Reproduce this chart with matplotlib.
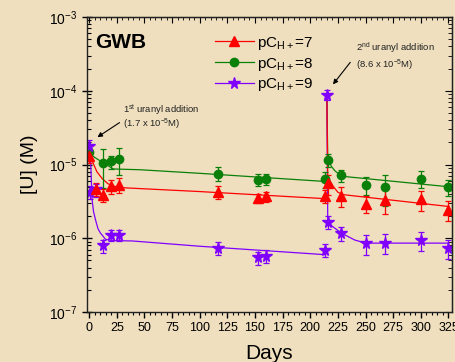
import numpy as np
import matplotlib
matplotlib.use('Agg')
import matplotlib.pyplot as plt
from matplotlib.lines import Line2D
from matplotlib.ticker import MultipleLocator, LogLocator, NullFormatter

plt.rcParams['font.family'] = ['Liberation Sans', 'DejaVu Sans']
plt.rcParams['mathtext.fontset'] = 'custom'
plt.rcParams['mathtext.rm'] = 'Liberation Sans'
plt.rcParams['mathtext.it'] = 'Liberation Sans:italic'
plt.rcParams['mathtext.bf'] = 'Liberation Sans:bold'
plt.rcParams['mathtext.default'] = 'regular'

# measured points (days, [U] in M, relative error)
red_days = [0, 6, 13, 20, 27, 117, 153, 160, 213, 216, 228, 250, 268, 300, 325]
red_u = [1.3e-5, 4.7e-6, 3.9e-6, 5.1e-6, 5.3e-6, 4.2e-6, 3.5e-6, 3.7e-6, 3.8e-6,
         5.6e-6, 3.8e-6, 2.95e-6, 3.3e-6, 3.4e-6, 2.45e-6]
red_err = [0.2, 0.2, 0.2, 0.22, 0.22, 0.2, 0.15, 0.15, 0.2, 0.3, 0.3, 0.25, 0.35, 0.3, 0.3]

green_days = [0, 13, 20, 27, 117, 153, 160, 213, 216, 228, 250, 268, 300, 325]
green_u = [1.46e-5, 1.06e-5, 1.1e-5, 1.2e-5, 7.55e-6, 6.25e-6, 6.4e-6, 6.4e-6,
           1.15e-5, 7.1e-6, 5.3e-6, 5.0e-6, 6.4e-6, 5.0e-6]
green_err = [0.15, 0.55, 0.2, 0.4, 0.22, 0.18, 0.18, 0.25, 0.2, 0.18, 0.28, 0.45, 0.26, 0.25]

purple_days = [0, 0.5, 6, 13, 20, 27, 117, 153, 160, 213, 215, 216, 228, 250, 268, 300, 325]
purple_u = [1.8e-5, 4.2e-6, 4.6e-6, 8.0e-7, 1.12e-6, 1.1e-6, 7.4e-7, 5.5e-7, 5.8e-7,
            7.0e-7, 8.8e-5, 1.66e-6, 1.18e-6, 8.6e-7, 8.7e-7, 9.5e-7, 7.4e-7]
purple_err = [0.2, 0.2, 0.2, 0.2, 0.17, 0.17, 0.2, 0.2, 0.2, 0.2, 0.16, 0.2, 0.22,
              0.3, 0.3, 0.3, 0.3]

# fitted curves (before / after the 2nd addition)
red_fit1_days = [0, 3, 7, 12, 17, 22, 30, 100, 213]
red_fit1 = [1.55e-5, 1.1e-5, 8.0e-6, 6.4e-6, 5.5e-6, 5.1e-6, 4.85e-6, 4.3e-6, 3.45e-6]
red_fit2_days = [215, 215.8, 218, 221, 225, 230, 325]
red_fit2 = [8.6e-5, 7.0e-6, 6.0e-6, 5.0e-6, 4.2e-6, 3.9e-6, 2.7e-6]

green_fit1_days = [0, 5, 13, 22, 46, 100, 213]
green_fit1 = [1.45e-5, 1.25e-5, 1.05e-5, 8.7e-6, 8.5e-6, 7.6e-6, 5.9e-6]
green_fit2_days = [215, 215.8, 219, 222, 226, 230, 325]
green_fit2 = [8.6e-5, 1.2e-5, 9.5e-6, 8.3e-6, 7.4e-6, 6.9e-6, 5.0e-6]

purple_fit1_days = [0, 1.5, 2.7, 4, 5.7, 8, 10.2, 14.8, 21, 39, 100, 213]
purple_fit1 = [1.8e-5, 1.0e-5, 3.3e-6, 2.3e-6, 1.8e-6, 1.35e-6, 1.18e-6, 9.7e-7,
               9.3e-7, 9.2e-7, 7.8e-7, 6.0e-7]
purple_fit2_days = [215, 215.8, 220, 228, 240, 250, 325]
purple_fit2 = [8.8e-5, 1.7e-6, 1.45e-6, 1.18e-6, 9.5e-7, 8.6e-7, 8.6e-7]

labels = ['pC$_{H+}$=7', 'pC$_{H+}$=8', 'pC$_{H+}$=9']

bg = '#EFDFBE'
c_red = '#FF0000'
c_green = '#0A800A'
c_purple = '#8000FF'

fig = plt.figure(figsize=(4.55, 3.62), dpi=100, facecolor=bg)
ax = fig.add_axes([0.191, 0.138, 0.802, 0.815])
ax.set_facecolor(bg)

series = [
    (green_days, green_u, green_err, green_fit1_days, green_fit1, green_fit2_days, green_fit2, c_green, 'o', 6),
    (purple_days, purple_u, purple_err, purple_fit1_days, purple_fit1, purple_fit2_days, purple_fit2, c_purple, '*', 8.5),
    (red_days, red_u, red_err, red_fit1_days, red_fit1, red_fit2_days, red_fit2, c_red, '^', 7),
]
for d, u, e, f1d, f1, f2d, f2, c, m, ms in series:
    ax.plot(f1d, f1, '-', color=c, lw=0.9)
    ax.plot(f2d, f2, '-', color=c, lw=0.9)
for d, u, e, f1d, f1, f2d, f2, c, m, ms in series:
    u = np.array(u)
    ax.errorbar(d, u, yerr=u * np.array(e), fmt=m, color=c, ms=ms, mec=c,
                ecolor=c, elinewidth=0.9, capsize=2.5, capthick=0.9)

ax.set_yscale('log')
ax.set_xlim(-2, 328)
ax.set_ylim(1e-7, 1e-3)
ax.xaxis.set_major_locator(MultipleLocator(25))
ax.xaxis.set_minor_locator(MultipleLocator(5))
ax.yaxis.set_major_locator(LogLocator(base=10))
ax.yaxis.set_minor_locator(LogLocator(base=10, subs=np.arange(2, 10)))
ax.yaxis.set_minor_formatter(NullFormatter())
ax.tick_params(axis='x', which='major', direction='out', length=4, labelsize=9, width=1)
ax.tick_params(axis='x', which='minor', direction='out', length=2, width=0.8)
ax.tick_params(axis='y', which='major', direction='inout', length=7, labelsize=10, width=1)
ax.tick_params(axis='y', which='minor', direction='in', length=3, width=0.8)
for s in ax.spines.values():
    s.set_linewidth(1.0)
    s.set_color('#222222')

top = ax.secondary_xaxis('top')
top.xaxis.set_major_locator(MultipleLocator(25))
top.xaxis.set_minor_locator(MultipleLocator(5))
top.tick_params(which='major', direction='in', length=4, labeltop=False)
top.tick_params(which='minor', direction='in', length=2)
right = ax.secondary_yaxis('right')
right.yaxis.set_major_locator(LogLocator(base=10))
right.yaxis.set_minor_locator(LogLocator(base=10, subs=np.arange(2, 10)))
right.tick_params(which='major', direction='in', length=5, labelright=False)
right.tick_params(which='minor', direction='in', length=3, labelright=False)

ax.set_xlabel('Days', fontsize=15, labelpad=7)
ax.set_ylabel('[U] (M)', fontsize=14, labelpad=8)

ax.text(0.022, 0.915, 'GWB', transform=ax.transAxes, fontsize=15,
        fontweight='bold', va='center', ha='left')

handles = [Line2D([], [], color=c, marker=m, ms=ms, lw=0.9)
           for c, m, ms in [(c_red, '^', 7), (c_green, 'o', 6), (c_purple, '*', 8.5)]]
ax.legend(handles, labels, loc='upper left', bbox_to_anchor=(0.35, 0.94),
          frameon=False, fontsize=11, handlelength=2.6, handletextpad=0.2,
          labelspacing=0.25, borderpad=0, borderaxespad=0)

ax.annotate('', xy=(5.4, 2.24e-5), xytext=(29.6, 3.88e-5),
            arrowprops=dict(arrowstyle='-|>', color='black', lw=0.8, mutation_scale=7))
ax.text(31, 5.43e-5, '1$^{st}$ uranyl addition', fontsize=6.8, va='center', color='#222222')
ax.text(31, 3.5e-5, '(1.7 x 10$^{-5}$M)', fontsize=6.8, va='center', color='#222222')
ax.annotate('', xy=(219, 1.14e-4), xytext=(237.7, 2.6e-4),
            arrowprops=dict(arrowstyle='-|>', color='black', lw=0.8, mutation_scale=7))
ax.text(241.5, 3.8e-4, '2$^{nd}$ uranyl addition', fontsize=6.8, va='center', color='#222222')
ax.text(241.5, 2.22e-4, '(8.6 x 10$^{-5}$M)', fontsize=6.8, va='center', color='#222222')

fig.savefig('out.png', dpi=100, facecolor=bg)
